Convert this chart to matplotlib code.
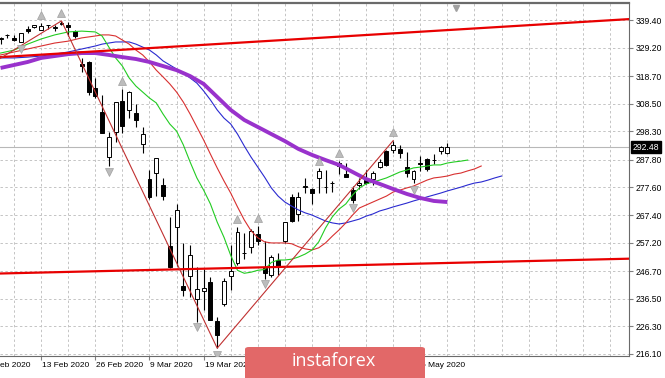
import matplotlib
matplotlib.use('Agg')
import matplotlib.pyplot as plt
import matplotlib.transforms as mtransforms
from matplotlib.patches import FancyBboxPatch

# daily bars, Feb 3 2020 .. May 11 2020 (bar index 0 = 3 Feb)
dates = ['3 Feb', '4 Feb', '5 Feb', '6 Feb', '7 Feb', '10 Feb', '11 Feb', '12 Feb', '13 Feb', '14 Feb',
         '18 Feb', '19 Feb', '20 Feb', '21 Feb', '24 Feb', '25 Feb', '26 Feb', '27 Feb', '28 Feb',
         '2 Mar', '3 Mar', '4 Mar', '5 Mar', '6 Mar', '9 Mar', '10 Mar', '11 Mar', '12 Mar', '13 Mar',
         '16 Mar', '17 Mar', '18 Mar', '19 Mar', '20 Mar', '23 Mar', '24 Mar', '25 Mar', '26 Mar',
         '27 Mar', '30 Mar', '31 Mar', '1 Apr', '2 Apr', '3 Apr', '6 Apr', '7 Apr', '8 Apr', '9 Apr',
         '13 Apr', '14 Apr', '15 Apr', '16 Apr', '17 Apr', '20 Apr', '21 Apr', '22 Apr', '23 Apr',
         '24 Apr', '27 Apr', '28 Apr', '29 Apr', '30 Apr', '1 May', '4 May', '5 May', '6 May',
         '7 May', '8 May', '11 May']
opens = [323.35, 328.07, 332.27, 333.91, 332.82, 331.23, 336.16, 336.83, 335.86, 337.51,
         336.51, 337.79, 337.74, 335.47, 323.14, 323.94, 314.18, 305.46, 288.70,
         298.21, 309.50, 306.12, 304.98, 293.79, 280.60, 283.00, 278.60, 255.94, 263.09,
         241.18, 245.04, 236.25, 239.25, 242.53, 228.19, 234.42, 244.87, 249.52,
         253.27, 255.70, 260.56, 247.98, 245.19, 250.76, 257.84, 274.21, 267.96, 277.58,
         277.14, 280.98, 277.57, 279.15, 285.38, 282.61, 276.73, 278.35, 280.49,
         280.73, 285.12, 291.02, 291.53, 291.71, 285.31, 280.74, 286.64, 288.04,
         287.75, 291.09, 290.34]
highs = [326.16, 330.01, 333.09, 334.19, 333.99, 334.75, 337.02, 337.64, 338.12, 337.73,
         337.67, 339.08, 338.64, 335.82, 325.24, 324.21, 318.11, 311.56, 297.89,
         309.16, 313.84, 313.10, 308.47, 299.96, 284.19, 288.52, 281.00, 266.66, 271.48,
         256.90, 256.17, 248.37, 247.38, 244.47, 229.68, 244.10, 256.35, 262.80,
         260.81, 262.43, 263.33, 257.66, 252.68, 253.32, 265.00, 275.03, 276.00, 281.20,
         277.51, 284.90, 283.94, 280.03, 287.30, 286.79, 278.04, 281.00, 283.94,
         283.70, 288.27, 291.40, 294.88, 293.32, 290.66, 283.90, 289.25, 288.46,
         289.78, 292.95, 294.00]
lows = [323.22, 327.72, 330.67, 332.80, 331.60, 331.19, 334.68, 336.48, 335.56, 336.20,
        335.21, 337.48, 333.68, 332.58, 320.24, 311.65, 310.70, 297.51, 285.54,
        294.46, 297.57, 303.33, 300.01, 290.42, 273.45, 274.50, 272.99, 247.68, 248.52,
        237.36, 237.07, 228.02, 232.22, 228.50, 218.26, 233.80, 239.75, 249.05,
        251.05, 253.53, 256.22, 243.90, 244.59, 245.22, 257.00, 264.89, 265.25, 275.47,
        271.41, 275.51, 275.46, 275.76, 282.40, 281.35, 272.02, 276.91, 278.75,
        278.50, 284.62, 285.40, 290.41, 288.59, 281.52, 279.13, 283.71, 283.78,
        286.26, 289.86, 289.88]
closes = [324.12, 329.06, 332.86, 333.98, 332.20, 334.68, 335.26, 337.42, 337.06, 337.60,
          336.73, 338.34, 336.95, 333.48, 322.42, 312.65, 311.50, 297.51, 296.26,
          309.09, 300.24, 312.86, 302.46, 297.46, 274.23, 288.42, 274.36, 248.11, 269.32,
          239.85, 252.80, 240.00, 240.51, 228.80, 222.95, 243.15, 246.79, 261.20,
          253.42, 261.65, 257.75, 246.15, 251.83, 248.19, 264.86, 265.13, 274.03, 278.20,
          275.66, 283.79, 277.76, 279.10, 286.64, 281.59, 273.04, 279.08, 279.08,
          282.97, 287.05, 285.73, 293.21, 290.48, 282.79, 283.57, 286.19, 284.25,
          287.68, 292.44, 292.50]

# alligator lines (shifted forward past the last bar)
lips_idx = [2, 4, 6, 8, 10, 12, 14, 16] + list(range(17, 23)) + list(range(24, 72))
lips = [327.2, 328.3, 330.5, 332.4, 333.9, 335.0, 335.3, 335.0,
        333.5, 329.4, 325.4, 322.4, 318.0, 315.0,
        310.6, 308.8, 304.7, 301.0, 298.4, 293.3, 287.0, 281.1, 276.6, 271.5, 264.8, 259.2,
        252.5, 247.0, 245.9, 246.3, 247.0, 247.3, 249.9, 250.8, 250.8, 251.1, 251.9, 253.0,
        254.5, 257.5, 262.6, 266.7, 269.6, 271.5, 274.8, 277.4, 278.9, 279.6, 280.3, 281.1,
        282.2, 283.3, 284.0, 284.8, 285.1, 285.5, 285.9, 285.9, 286.6, 287.0, 287.3, 287.7]
teeth_idx = [2, 4, 6, 8, 10, 12, 14, 16] + list(range(17, 74))
teeth = [326.5, 327.6, 328.7, 329.8, 330.9, 331.6, 332.8, 333.5,
         333.9, 333.9, 333.5, 332.0, 330.5, 328.3, 326.5, 323.9, 320.9, 318.4, 315.8, 312.8,
         309.1, 304.7, 299.9, 295.1, 289.9, 284.8, 280.0, 275.5, 270.4, 265.6, 261.6, 259.0,
         257.5, 257.1, 257.1, 257.1, 256.8, 255.7, 254.9, 254.5, 255.3, 257.1, 259.6, 261.9,
         264.5, 267.4, 270.0, 271.1, 272.2, 273.3, 274.4, 275.9, 276.6, 277.4, 278.1, 279.2,
         280.3, 281.1, 281.4, 281.8, 282.5, 282.9, 283.7, 284.4, 285.5]
jaw_idx = [2, 4, 6, 8, 10, 12, 14, 16] + list(range(17, 77))
jaw = [325.4, 325.4, 325.7, 326.1, 326.8, 327.6, 328.7, 329.8,
       330.5, 330.9, 331.3, 331.3, 331.3, 330.5, 329.4, 328.3, 326.5, 324.3, 322.8, 321.3,
       319.8, 318.0, 316.1, 313.2, 309.9, 306.2, 303.2, 301.0, 297.3, 292.9, 288.8, 285.1,
       281.4, 277.4, 274.4, 272.2, 270.7, 269.3, 268.2, 267.4, 266.3, 265.2, 264.5, 264.1,
       264.5, 265.2, 265.9, 267.0, 267.8, 268.9, 269.6, 270.4, 271.1, 271.8, 272.6, 273.3,
       274.1, 274.8, 275.5, 276.3, 277.0, 277.7, 278.5, 279.2, 279.6, 280.3, 281.1, 281.8]
# slow moving average (thick purple)
ma_idx = list(range(2, 69, 2))
ma = [321.7, 322.8, 323.9, 325.4, 326.1, 326.8, 327.2, 327.2, 326.5, 325.7, 325.0, 323.9,
      322.4, 320.9, 318.7, 315.8, 311.0, 306.2, 302.5, 299.9, 297.3, 294.7, 291.8, 289.6,
      287.7, 285.9, 283.3, 280.7, 278.9, 277.0, 275.2, 273.7, 272.6, 272.2]

# zigzag swing points (index -1 = 31 Jan)
zz_idx = [-1, 11, 34, 60]
zz = [320.73, 339.08, 218.26, 294.88]

# fractal arrows
up_fr_idx = [8, 11, 20, 37, 40, 49, 52, 60]
up_fr = [341.2, 341.9, 316.9, 265.9, 266.3, 287.3, 290.3, 298.1]
dn_fr_idx = [5, 18, 31, 34, 41, 54, 63]
dn_fr = [328.7, 283.3, 226.1, 215.7, 241.9, 270.0, 276.6]

# trendlines: two anchor points each (bar index, price)
trend_hi = [(0, 325.4), (90, 339.0)]
trend_lo = [(0, 245.7), (90, 251.0)]

last_price = 292.48
ytick_labels = ['216.10', '226.30', '236.50', '246.70', '257.20', '267.40', '277.60',
                '287.80', '298.30', '308.50', '318.70', '329.20', '339.40']
# every 8th bar; the ones under the watermark are not visible in the picture
xtick_idx = [0, 8, 16, 24, 32, 40, 48, 56, 64]
xtick_labels = ['3 Feb 2020', '13 Feb 2020', '26 Feb 2020', '9 Mar 2020', '19 Mar 2020',
                '', '', '', '5 May 2020']

plt.rcParams['font.family'] = ['Liberation Sans', 'DejaVu Sans']

fig = plt.figure(figsize=(6.65, 3.78), dpi=100)
ax = fig.add_axes([0, 22 / 378, 629 / 665, 353 / 378])

# grid
ax.set_xticks(xtick_idx)
ax.set_xticks(range(0, 96, 4), minor=True)
ax.set_xticklabels([])
ax.set_yticks([float(v) for v in ytick_labels])
ax.set_yticklabels(ytick_labels)
ax.grid(True, which='both', axis='x', color='#c4c4c4', lw=0.7, ls=(0, (2.5, 2.5)))
ax.grid(True, which='major', axis='y', color='#c4c4c4', lw=0.7, ls=(0, (2.5, 2.5)))
ax.set_axisbelow(True)
ax.yaxis.tick_right()
ax.tick_params(axis='y', labelsize=6.2, length=3, color='#808080', pad=2)
ax.tick_params(axis='x', which='major', length=3, color='#808080')
ax.tick_params(axis='x', which='minor', length=0)
for s in ['top', 'right', 'bottom']:
    ax.spines[s].set_color('#6a6a6a')
ax.spines['top'].set_linewidth(1.6)
ax.spines['left'].set_visible(False)

# limits after the ticks, since set_xticks widens the view
ax.set_xlim(1.92, 94.83)
ax.set_ylim(215.36, 345.68)

blend = mtransforms.blended_transform_factory(ax.transData, ax.transAxes)
for i, lbl in zip(xtick_idx, xtick_labels):
    if lbl:
        ax.text(i + 0.15, -0.016, lbl, transform=blend, ha='left', va='top', fontsize=6.0,
                clip_on=False)

# current price line
ax.axhline(last_price, color='#b8b8b8', lw=0.8, zorder=1)
yblend = mtransforms.blended_transform_factory(ax.transAxes, ax.transData)
ax.text(1.006, last_price, '%.2f' % last_price, transform=yblend, color='white',
        fontsize=6.2, ha='left', va='center', clip_on=False, zorder=10,
        bbox=dict(facecolor='black', edgecolor='black', pad=1.0))

# candles
n = len(closes)
for i in range(n):
    o, h, l, c = opens[i], highs[i], lows[i], closes[i]
    ax.vlines(i, l, h, color='black', lw=0.8, zorder=2)
    ax.bar(i, abs(c - o), bottom=min(o, c), width=0.58,
           color='white' if c >= o else 'black', edgecolor='black', lw=0.7, zorder=2.5)

# indicators
ax.plot(jaw_idx, jaw, color='#2a2ad0', lw=0.8, zorder=3)
ax.plot(teeth_idx, teeth, color='#d83030', lw=0.8, zorder=3)
ax.plot(lips_idx, lips, color='#22cc22', lw=0.8, zorder=3)
ax.plot(ma_idx, ma, color='#9932cc', lw=2.8, zorder=3, solid_capstyle='butt')
ax.axline(trend_hi[0], trend_hi[1], color='#e80000', lw=1.6, zorder=4)
ax.axline(trend_lo[0], trend_lo[1], color='#e80000', lw=1.6, zorder=4)
ax.plot(zz_idx, zz, color='#c03030', lw=0.8, zorder=4)
ax.plot(up_fr_idx, up_fr, ls='none', marker='^', ms=5.5, mfc='#bcbcbc', mec='#a0a0a0',
        mew=0.5, zorder=5)
ax.plot(dn_fr_idx, dn_fr, ls='none', marker='v', ms=5.5, mfc='#bcbcbc', mec='#a0a0a0',
        mew=0.5, zorder=5)
# chart shift marker
ax.plot([0.725], [0.985], transform=ax.transAxes, marker='v', ms=5, color='#a0a0a0',
        clip_on=False, zorder=6)

# watermark
fig.patches.append(FancyBboxPatch((245 / 665, -0.02), 180 / 665, 31 / 378 + 0.02,
                                  boxstyle='round,pad=0,rounding_size=0.006',
                                  transform=fig.transFigure, facecolor='#e26868',
                                  edgecolor='none', zorder=20))
fig.text(334 / 665, 1 - 361 / 378, 'instaforex', color='white', fontsize=13,
         family='Open Sans', ha='center', va='center', zorder=21)

fig.savefig('out.png', dpi=100)
